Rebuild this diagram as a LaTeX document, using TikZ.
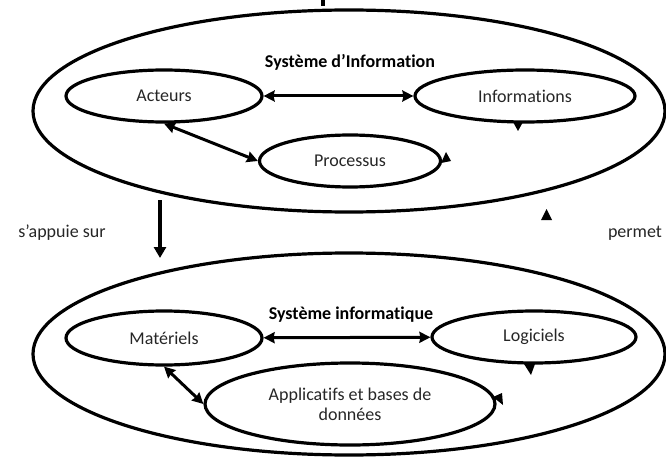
\documentclass[tikz,border=0pt]{standalone}
\usepackage{fontspec}
\setmainfont{Carlito}[Ligatures=NoCommon]
\usetikzlibrary{arrows.meta,shapes.geometric}

\begin{document}
\begin{tikzpicture}[x=1pt,y=-1pt,line width=3.2pt,
  bulle/.style={draw,ellipse,inner sep=0pt,text=black!85,align=center,font=\fontsize{18}{20}\selectfont},
  titre/.style={font=\fontsize{18}{20}\selectfont\bfseries},
  texte/.style={text=black!85,font=\fontsize{18}{20}\selectfont},
  lien/.style={{Stealth[length=11pt,width=11pt,inset=1pt]}-{Stealth[length=11pt,width=11pt,inset=1pt]},line width=3pt}]
  \useasboundingbox (0,0) rectangle (666,457);
  %\draw[red,thin] (0,0) rectangle (666,457);
  % Systeme d'Information
  \draw (323,0) -- (323,6);
  \node[bulle,minimum width=632pt,minimum height=202pt] (si) at (349,111) {};
  \node[titre] (tsi) at (350,62) {Système d’Information};
  \node[bulle,minimum width=196pt,minimum height=52pt] (act) at (164,96) {Acteurs};
  \node[bulle,minimum width=220pt,minimum height=52pt] (inf) at (525,96) {Informations};
  \node[bulle,minimum width=181pt,minimum height=52pt] (proc) at (350,161) {Processus};
  \draw[lien] (act) -- (inf);
  \draw[lien] (act.south) -- (proc.west);
  \fill (513,122) -- (523,122) -- (518,131) -- cycle;
  \fill (441,163) -- (451,161) -- (446,152) -- cycle;
  % liaison entre les deux
  \node[texte] (appui) at (62,233) {s’appuie sur};
  \node[texte] (permet) at (635,233) {permet};
  \coordinate (s1) at (160,200);
  \coordinate (s2) at (160,258);
  \draw[-{Triangle[length=11pt,width=12pt]}] (s1) -- (s2);
  \fill (541,220) -- (552,220) -- (546.5,209) -- cycle;
  % Systeme informatique
  \node[bulle,minimum width=632pt,minimum height=202pt] (sinf) at (349,354) {};
  \node[titre] (tsinf) at (351,315) {Système informatique};
  \node[bulle,minimum width=196pt,minimum height=54pt] (mat) at (164,338) {Matériels};
  \node[bulle,minimum width=204pt,minimum height=52pt] (log) at (534,337) {\raisebox{3pt}{Logiciels}};
  \node[bulle,minimum width=290pt,minimum height=82pt] (app) at (350,404) {Applicatifs et bases de\\données};
  \draw[lien] (mat) -- (log);
  \draw[lien] (mat.south) -- (app.west);
  \fill (524,364) -- (535,364) -- (531,375) -- cycle;
  \fill (493,397) -- (502,393) -- (503,405) -- cycle;
\end{tikzpicture}
\end{document}
